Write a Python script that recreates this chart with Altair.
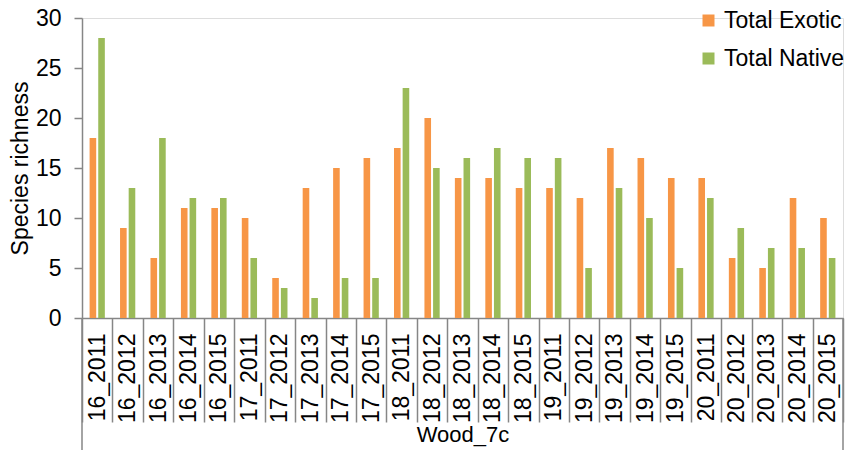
import altair as alt
import pandas as pd

categories = ["16_2011", "16_2012", "16_2013", "16_2014", "16_2015",
              "17_2011", "17_2012", "17_2013", "17_2014", "17_2015",
              "18_2011", "18_2012", "18_2013", "18_2014", "18_2015",
              "19_2011", "19_2012", "19_2013", "19_2014", "19_2015",
              "20_2011", "20_2012", "20_2013", "20_2014", "20_2015"]
exotic = [18, 9, 6, 11, 11, 10, 4, 13, 15, 16, 17, 20, 14, 14, 13,
          13, 12, 17, 16, 14, 14, 6, 5, 12, 10]
native = [28, 13, 18, 12, 12, 6, 3, 2, 4, 4, 23, 15, 16, 17, 16,
          16, 5, 13, 10, 5, 12, 9, 7, 7, 6]
series_names = ["Total Exotic", "Total Native"]
colors = ["#F79646", "#9BBB59"]
y_ticks = [0, 5, 10, 15, 20, 25, 30]

rows = []
for c, e, n in zip(categories, exotic, native):
    rows.append({"cat": c, "series": series_names[0], "value": e})
    rows.append({"cat": c, "series": series_names[1], "value": n})
df = pd.DataFrame(rows)

FONT = "Liberation Sans"
AX = "#868686"
FS = 23
W, H = 761, 300

xscale = alt.Scale(paddingInner=0, paddingOuter=0)
x_axis = alt.Axis(title="Wood_7c", labelAngle=-90, tickBand="extent",
                  tickSize=104, tickColor=AX, tickWidth=1.5,
                  labelPadding=-89, labelFont=FONT, labelFontSize=FS,
                  labelColor="black", domainColor=AX, domainWidth=1.5,
                  titleFont=FONT, titleFontSize=22, titleFontWeight="normal",
                  titleColor="black", titleY=106, titleBaseline="top",
                  labelLimit=300)

bars = alt.Chart(df).mark_bar().encode(
    x=alt.X("cat:N", sort=categories, scale=xscale, axis=x_axis),
    xOffset=alt.XOffset("series:N", sort=series_names,
                        scale=alt.Scale(paddingInner=0.235, paddingOuter=0.88)),
    y=alt.Y("value:Q", scale=alt.Scale(domain=[0, 30], nice=False),
            axis=alt.Axis(values=y_ticks, title="Species richness", grid=False,
                          tickSize=8, tickColor=AX, tickWidth=1.5,
                          domainColor=AX, domainWidth=1.5,
                          labelPadding=13, labelFont=FONT, labelFontSize=FS,
                          labelColor="black", titleFont=FONT, titleFontSize=FS,
                          titleFontWeight="normal", titleColor="black",
                          titlePadding=3)),
    color=alt.Color("series:N", sort=series_names,
                    scale=alt.Scale(domain=series_names, range=colors),
                    legend=alt.Legend(title=None, orient="none", legendX=615,
                                      legendY=-9, symbolType="square",
                                      symbolSize=144, symbolStrokeWidth=0,
                                      labelFont=FONT, labelFontSize=FS,
                                      labelColor="black", labelOffset=4,
                                      rowPadding=14, padding=0, labelLimit=300)),
)

first_edge = alt.Chart(pd.DataFrame({"cat": [categories[0]]})).mark_rule(
    color=AX, strokeWidth=1.5).encode(
    x=alt.X("cat:N", sort=categories, scale=xscale, bandPosition=0, axis=x_axis),
    y=alt.value(H), y2=alt.value(H + 170))
last_edge = alt.Chart(pd.DataFrame({"cat": [categories[-1]]})).mark_rule(
    color=AX, strokeWidth=1.5).encode(
    x=alt.X("cat:N", sort=categories, scale=xscale, bandPosition=1, axis=x_axis),
    y=alt.value(H), y2=alt.value(H + 170))

chart = alt.layer(bars, first_edge, last_edge).properties(
    width=W, height=H,
    autosize=alt.AutoSizeParams(type="none"),
    padding={"left": 74, "top": 10, "right": 3, "bottom": 132},
).configure_view(stroke=None).configure(background="white")

chart.save("out.html", embed_options={"renderer": "svg", "actions": False})
